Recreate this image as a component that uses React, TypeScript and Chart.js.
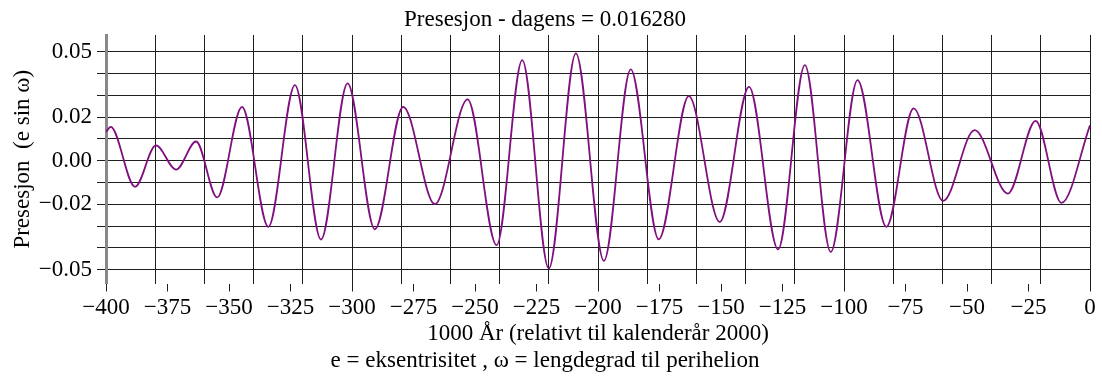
import React, { useEffect, useRef } from 'react';
import { Chart, registerables } from 'chart.js';

Chart.register(...registerables);

// Years (thousands, relative to 2000) at the curve's turning points
const years = [
  -400, -398.1, -388.2, -379.7, -371.5, -363.4, -354.8, -344.7, -334.0, -323.2,
  -312.6, -301.8, -290.7, -279.2, -266.3, -253.0, -241.2, -230.8, -220.0, -209.0,
  -197.6, -186.7, -175.3, -163.1, -150.5, -138.6, -126.8, -115.9, -105.4, -94.5,
  -82.8, -71.7, -59.7, -46.9, -33.4, -22.1, -11.6, 0,
];
// Precession index e·sin(ω) at those points
const values = [
  0.0132, 0.0155, -0.012, 0.007, -0.0041, 0.0088, -0.0169, 0.0247, -0.0304, 0.0347,
  -0.0362, 0.0355, -0.0315, 0.0247, -0.02, 0.0281, -0.0388, 0.0462, -0.0495, 0.0493,
  -0.046, 0.0419, -0.0361, 0.0296, -0.0281, 0.0339, -0.0407, 0.0439, -0.0419, 0.037,
  -0.0304, 0.024, -0.0185, 0.014, -0.0151, 0.0183, -0.0194, 0.01628,
];

const xTickValues = [-400, -375, -350, -325, -300, -275, -250, -225, -200, -175, -150, -125, -100, -75, -50, -25, 0];
const xTickLabels = ['\u2212400', '\u2212375', '\u2212350', '\u2212325', '\u2212300', '\u2212275', '\u2212250', '\u2212225', '\u2212200', '\u2212175', '\u2212150', '\u2212125', '\u2212100', '\u221275', '\u221250', '\u221225', '0'];
const xGridStep = 20;
const yGridValues = [0.05, 0.04, 0.03, 0.02, 0.01, 0, -0.01, -0.02, -0.03, -0.04, -0.05];
const yTickValues = [0.05, 0.02, 0, -0.02, -0.05];
const yTickLabels = ['0.05', '0.02', '0.00', '\u22120.02', '\u22120.05'];

const FAMILY = "'Liberation Serif', 'Times New Roman', serif";
const GRID = '#1f1f1f';
const NONE = 'rgba(0,0,0,0)';

export default function App() {
  const ref = useRef<HTMLCanvasElement>(null);

  useEffect(() => {
    const font = { family: FAMILY, size: 23, weight: 'normal' as const, lineHeight: 1.2 };
    const chart = new Chart(ref.current as HTMLCanvasElement, {
      type: 'line',
      data: {
        datasets: [
          {
            data: years.map((x, i) => ({ x, y: values[i] })),
            borderColor: '#80107f',
            borderWidth: 1.8,
            pointRadius: 0,
            cubicInterpolationMode: 'monotone',
            fill: false,
          },
        ],
      },
      options: {
        animation: false,
        responsive: true,
        maintainAspectRatio: false,
        layout: { padding: { left: 0, right: 12, top: 0, bottom: 0 } },
        plugins: {
          legend: { display: false },
          tooltip: { enabled: false },
          title: {
            display: true,
            text: 'Presesjon - dagens = 0.016280',
            color: '#000',
            font,
            padding: { top: 5.7, bottom: 1.7 },
          },
          subtitle: {
            display: true,
            position: 'bottom',
            text: 'e = eksentrisitet , \u03c9 = lengdegrad til perihelion',
            color: '#000',
            font,
            padding: { top: 0, bottom: 4.2 },
          },
        },
        scales: {
          x: {
            type: 'linear',
            min: -400,
            max: 0,
            bounds: 'data',
            ticks: {
              stepSize: 5,
              autoSkip: false,
              maxRotation: 0,
              minRotation: 0,
              padding: 3,
              color: '#000',
              font,
              callback: (v: any) => {
                const i = xTickValues.indexOf(Math.round(Number(v)));
                return i >= 0 ? xTickLabels[i] : '';
              },
            },
            grid: {
              color: (ctx: any) => (Math.round(ctx.tick.value) % xGridStep === 0 ? GRID : NONE),
              tickColor: (ctx: any) => (xTickValues.includes(Math.round(ctx.tick.value)) ? GRID : NONE),
              tickLength: 8,
              lineWidth: 1,
            },
            border: { display: false },
            title: {
              display: true,
              text: '1000 \u00c5r (relativt til kalender\u00e5r 2000)',
              color: '#000',
              font,
              padding: { top: 0, bottom: -1 },
            },
            afterFit: (s: any) => {
              s.height = 63.7;
            },
          },
          y: {
            type: 'linear',
            min: -0.0564,
            max: 0.0577,
            bounds: 'data',
            afterBuildTicks: (s: any) => {
              s.ticks = yGridValues.map((value) => ({ value }));
            },
            ticks: {
              autoSkip: false,
              padding: 5,
              color: '#000',
              font,
              callback: (v: any) => {
                const i = yTickValues.findIndex((t) => Math.abs(t - Number(v)) < 1e-6);
                return i >= 0 ? yTickLabels[i] : '';
              },
            },
            grid: { color: GRID, tickLength: 9, lineWidth: 1 },
            border: { display: true, color: '#888888', width: 3 },
            title: {
              display: true,
              text: 'Presesjon  (e sin \u03c9)',
              color: '#000',
              font,
              padding: { top: 9.2, bottom: 0 },
            },
            afterFit: (s: any) => {
              s.width = 106;
            },
          },
        },
      } as any,
    });
    return () => chart.destroy();
  }, []);

  return (
    <div style={{ position: 'absolute', left: 0, top: 0, width: 1102, height: 379, background: '#fff' }}>
      <canvas ref={ref} />
    </div>
  );
}
